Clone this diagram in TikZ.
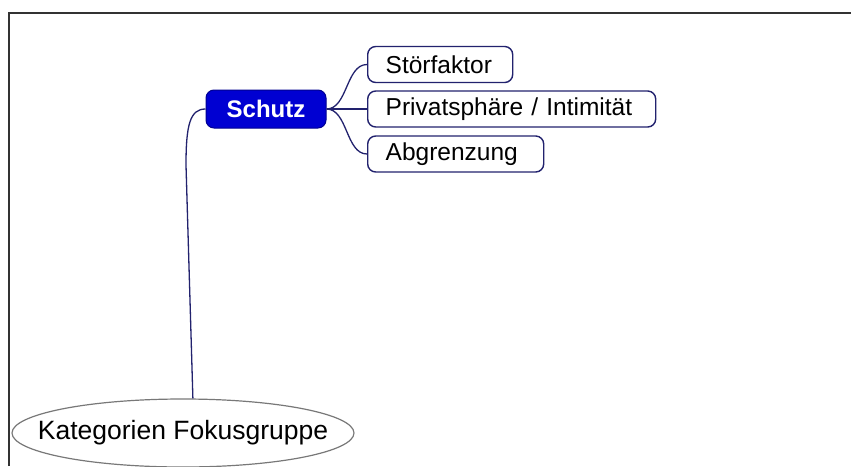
\documentclass[tikz,border=0pt]{standalone}
\usepackage{fontspec}
\setmainfont{Liberation Sans}
\usetikzlibrary{shapes.geometric}
\definecolor{schutzblue}{RGB}{0,0,210}
\definecolor{navyline}{RGB}{34,34,110}
\definecolor{ellgray}{RGB}{120,120,120}
\begin{document}
\begin{tikzpicture}[x=1pt,y=1pt,
  mainbox/.style={draw=schutzblue!70!black, fill=schutzblue, rounded corners=8pt, line width=1pt,
    minimum width=120pt, minimum height=38pt, inner sep=0pt,
    text=white, font=\fontsize{24}{28}\selectfont\bfseries},
  childbox/.style={draw=navyline, fill=white, rounded corners=8pt, line width=1.4pt,
    inner xsep=18pt, inner ysep=0pt, minimum height=36pt, anchor=west, align=left,
    font=\fontsize{24.5}{28}\selectfont},
  rootell/.style={draw=ellgray, fill=white, ellipse, line width=1.2pt, inner sep=0pt,
    minimum width=342pt, minimum height=68pt},
  roottext/.style={inner sep=0pt, font=\fontsize{26.5}{30}\selectfont},
  conn/.style={draw=navyline, line width=1.3pt}
]
\useasboundingbox (0,0) rectangle (851,-466);
\clip (0,0) rectangle (851,-466);
\fill[white] (0,0) rectangle (851,-466);
\draw[line width=2pt, black!80] (9,-466) -- (9,-13) -- (851,-13);

\node[rootell] (root) at (183,-433) {};
\node[roottext] (roottxt) at (root.center) {Kategorien Fokusgruppe};
\node[mainbox] (schutz) at (266,-109) {Schutz};
\node[childbox, text width=109pt] (stoer) at (367,-64.5) {Störfaktor};
\node[childbox, text width=252pt] (priv) at (367,-109) {Privatsphäre / Intimität};
\node[childbox, text width=140pt] (abgr) at (367,-154) {Abgrenzung};

\draw[conn] (schutz.east) to[out=0,in=180,looseness=0.9] (stoer.west);
\draw[conn] (schutz.east) -- (priv.west);
\draw[conn] (schutz.east) to[out=0,in=180,looseness=0.9] (abgr.west);
\draw[conn] (schutz.west) .. controls (190,-109) and (186,-125) .. (186,-165) -- (root.74);
\end{tikzpicture}
\end{document}
